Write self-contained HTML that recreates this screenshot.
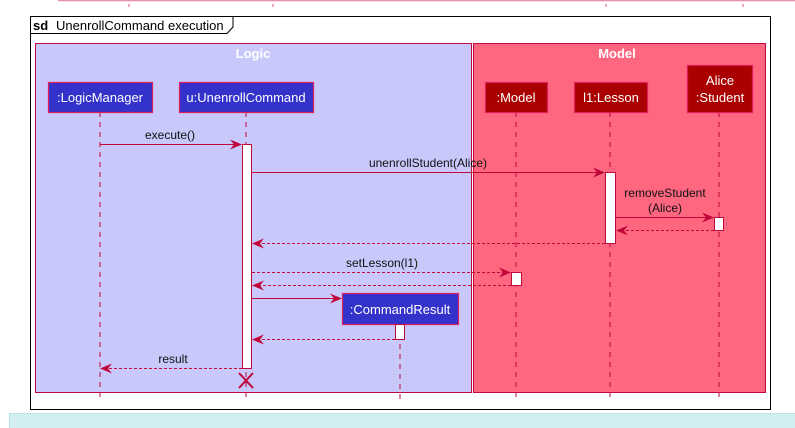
<!DOCTYPE html>
<html><head><meta charset="utf-8"><style>
html,body{margin:0;padding:0;background:#fff;}
svg{display:block;font-family:"Liberation Sans",sans-serif;}
</style></head><body>
<svg width="795" height="428" viewBox="0 0 795 428" xmlns="http://www.w3.org/2000/svg">
<defs>
<marker id="a" viewBox="0 0 12 10" refX="11" refY="5" markerWidth="12" markerHeight="10" markerUnits="userSpaceOnUse" orient="auto"><path d="M0,0 L12,5 L0,10 L4,5 Z" fill="#c0073c"/></marker>
</defs>
<!-- top residue -->
<line x1="58" y1="0.5" x2="795" y2="0.5" stroke="#e68fae" stroke-width="1.5"/>
<g stroke="#e0507c" stroke-width="1"><line x1="129" y1="4" x2="129" y2="7"/><line x1="273" y1="4" x2="273" y2="7"/><line x1="606" y1="4" x2="606" y2="7"/><line x1="743" y1="4" x2="743" y2="7"/></g>
<!-- frame -->
<rect x="30.5" y="16.5" width="740" height="393" fill="#fff" stroke="#000" stroke-width="1"/>
<path d="M30.5,33.5 H227 L233,27 V16.5" fill="none" stroke="#000"/>
<text x="33" y="30" font-size="13" font-weight="bold">sd</text>
<text x="56" y="30" font-size="13">UnenrollCommand execution</text>
<!-- boxes -->
<rect x="35.5" y="43.5" width="436" height="349" fill="#c8c8fb" stroke="#c0073c"/>
<rect x="473.5" y="43.5" width="292" height="349" fill="#ff6680" stroke="#c0073c"/>
<text x="253" y="58" font-size="13" font-weight="bold" fill="#fff" text-anchor="middle">Logic</text>
<text x="617" y="58" font-size="13" font-weight="bold" fill="#fff" text-anchor="middle">Model</text>
<!-- lifelines -->
<g stroke="#c0073c" stroke-dasharray="5,5" stroke-width="1">
<line x1="100" y1="112" x2="100" y2="400"/>
<line x1="246" y1="112" x2="246" y2="400"/>
<line x1="400" y1="324" x2="400" y2="400"/>
<line x1="516" y1="112" x2="516" y2="400"/>
<line x1="610" y1="112" x2="610" y2="400"/>
<line x1="719" y1="112" x2="719" y2="400"/>
</g>
<!-- participant boxes -->
<g stroke="#e0205a" stroke-width="1.2">
<rect x="48.5" y="82.5" width="104" height="30" fill="#3333cc"/>
<rect x="179.5" y="82.5" width="134" height="30" fill="#3333cc"/>
<rect x="485.5" y="82.5" width="62" height="30" fill="#aa0000"/>
<rect x="574.5" y="82.5" width="73" height="30" fill="#aa0000"/>
<rect x="687.5" y="65.5" width="65" height="47" fill="#aa0000"/>
<rect x="342.5" y="293.5" width="116" height="31" fill="#3333cc"/>
</g>
<g fill="#fff" font-size="13" text-anchor="middle">
<text x="100" y="102">:LogicManager</text>
<text x="246" y="102">u:UnenrollCommand</text>
<text x="516" y="102">:Model</text>
<text x="611" y="102">l1:Lesson</text>
<text x="720" y="85">Alice</text>
<text x="720" y="102">:Student</text>
<text x="400" y="314">:CommandResult</text>
</g>
<!-- activations -->
<g fill="#fff" stroke="#c0073c" stroke-width="1">
<rect x="242.5" y="144.5" width="9" height="224"/>
<rect x="605.5" y="172.5" width="10" height="71"/>
<rect x="714.5" y="217.5" width="9" height="13"/>
<rect x="511.5" y="272.5" width="10" height="13"/>
<rect x="395.5" y="324.5" width="9" height="15"/>
</g>
<!-- messages -->
<g stroke="#c0073c" stroke-width="1" fill="none">
<line x1="100" y1="144.5" x2="241" y2="144.5" marker-end="url(#a)"/>
<line x1="252" y1="172.5" x2="604" y2="172.5" marker-end="url(#a)"/>
<line x1="616" y1="217.5" x2="713" y2="217.5" marker-end="url(#a)"/>
<line x1="714" y1="230.5" x2="617" y2="230.5" stroke-dasharray="3,2" marker-end="url(#a)"/>
<line x1="605" y1="243.5" x2="253" y2="243.5" stroke-dasharray="3,2" marker-end="url(#a)"/>
<line x1="252" y1="272.5" x2="510" y2="272.5" stroke-dasharray="3,2" marker-end="url(#a)"/>
<line x1="511" y1="285.5" x2="253" y2="285.5" stroke-dasharray="3,2" marker-end="url(#a)"/>
<line x1="252" y1="298.5" x2="341" y2="298.5" marker-end="url(#a)"/>
<line x1="395" y1="339.5" x2="253" y2="339.5" stroke-dasharray="3,2" marker-end="url(#a)"/>
<line x1="242" y1="368.5" x2="101" y2="368.5" stroke-dasharray="3,2" marker-end="url(#a)"/>
</g>
<g fill="#111" font-size="12" text-anchor="middle">
<text x="170" y="139">execute()</text>
<text x="428" y="167">unenrollStudent(Alice)</text>
<text x="665" y="197">removeStudent</text>
<text x="665" y="212">(Alice)</text>
<text x="382" y="267">setLesson(l1)</text>
<text x="173" y="363">result</text>
</g>
<!-- destroy -->
<g stroke="#c0073c" stroke-width="2"><line x1="239" y1="373" x2="253" y2="388"/><line x1="253" y1="373" x2="239" y2="388"/></g>
<!-- bottom band -->
<rect x="9.5" y="413.5" width="790" height="20" fill="#d3eef3" stroke="#b5e3ea"/>
</svg>
</body></html>
